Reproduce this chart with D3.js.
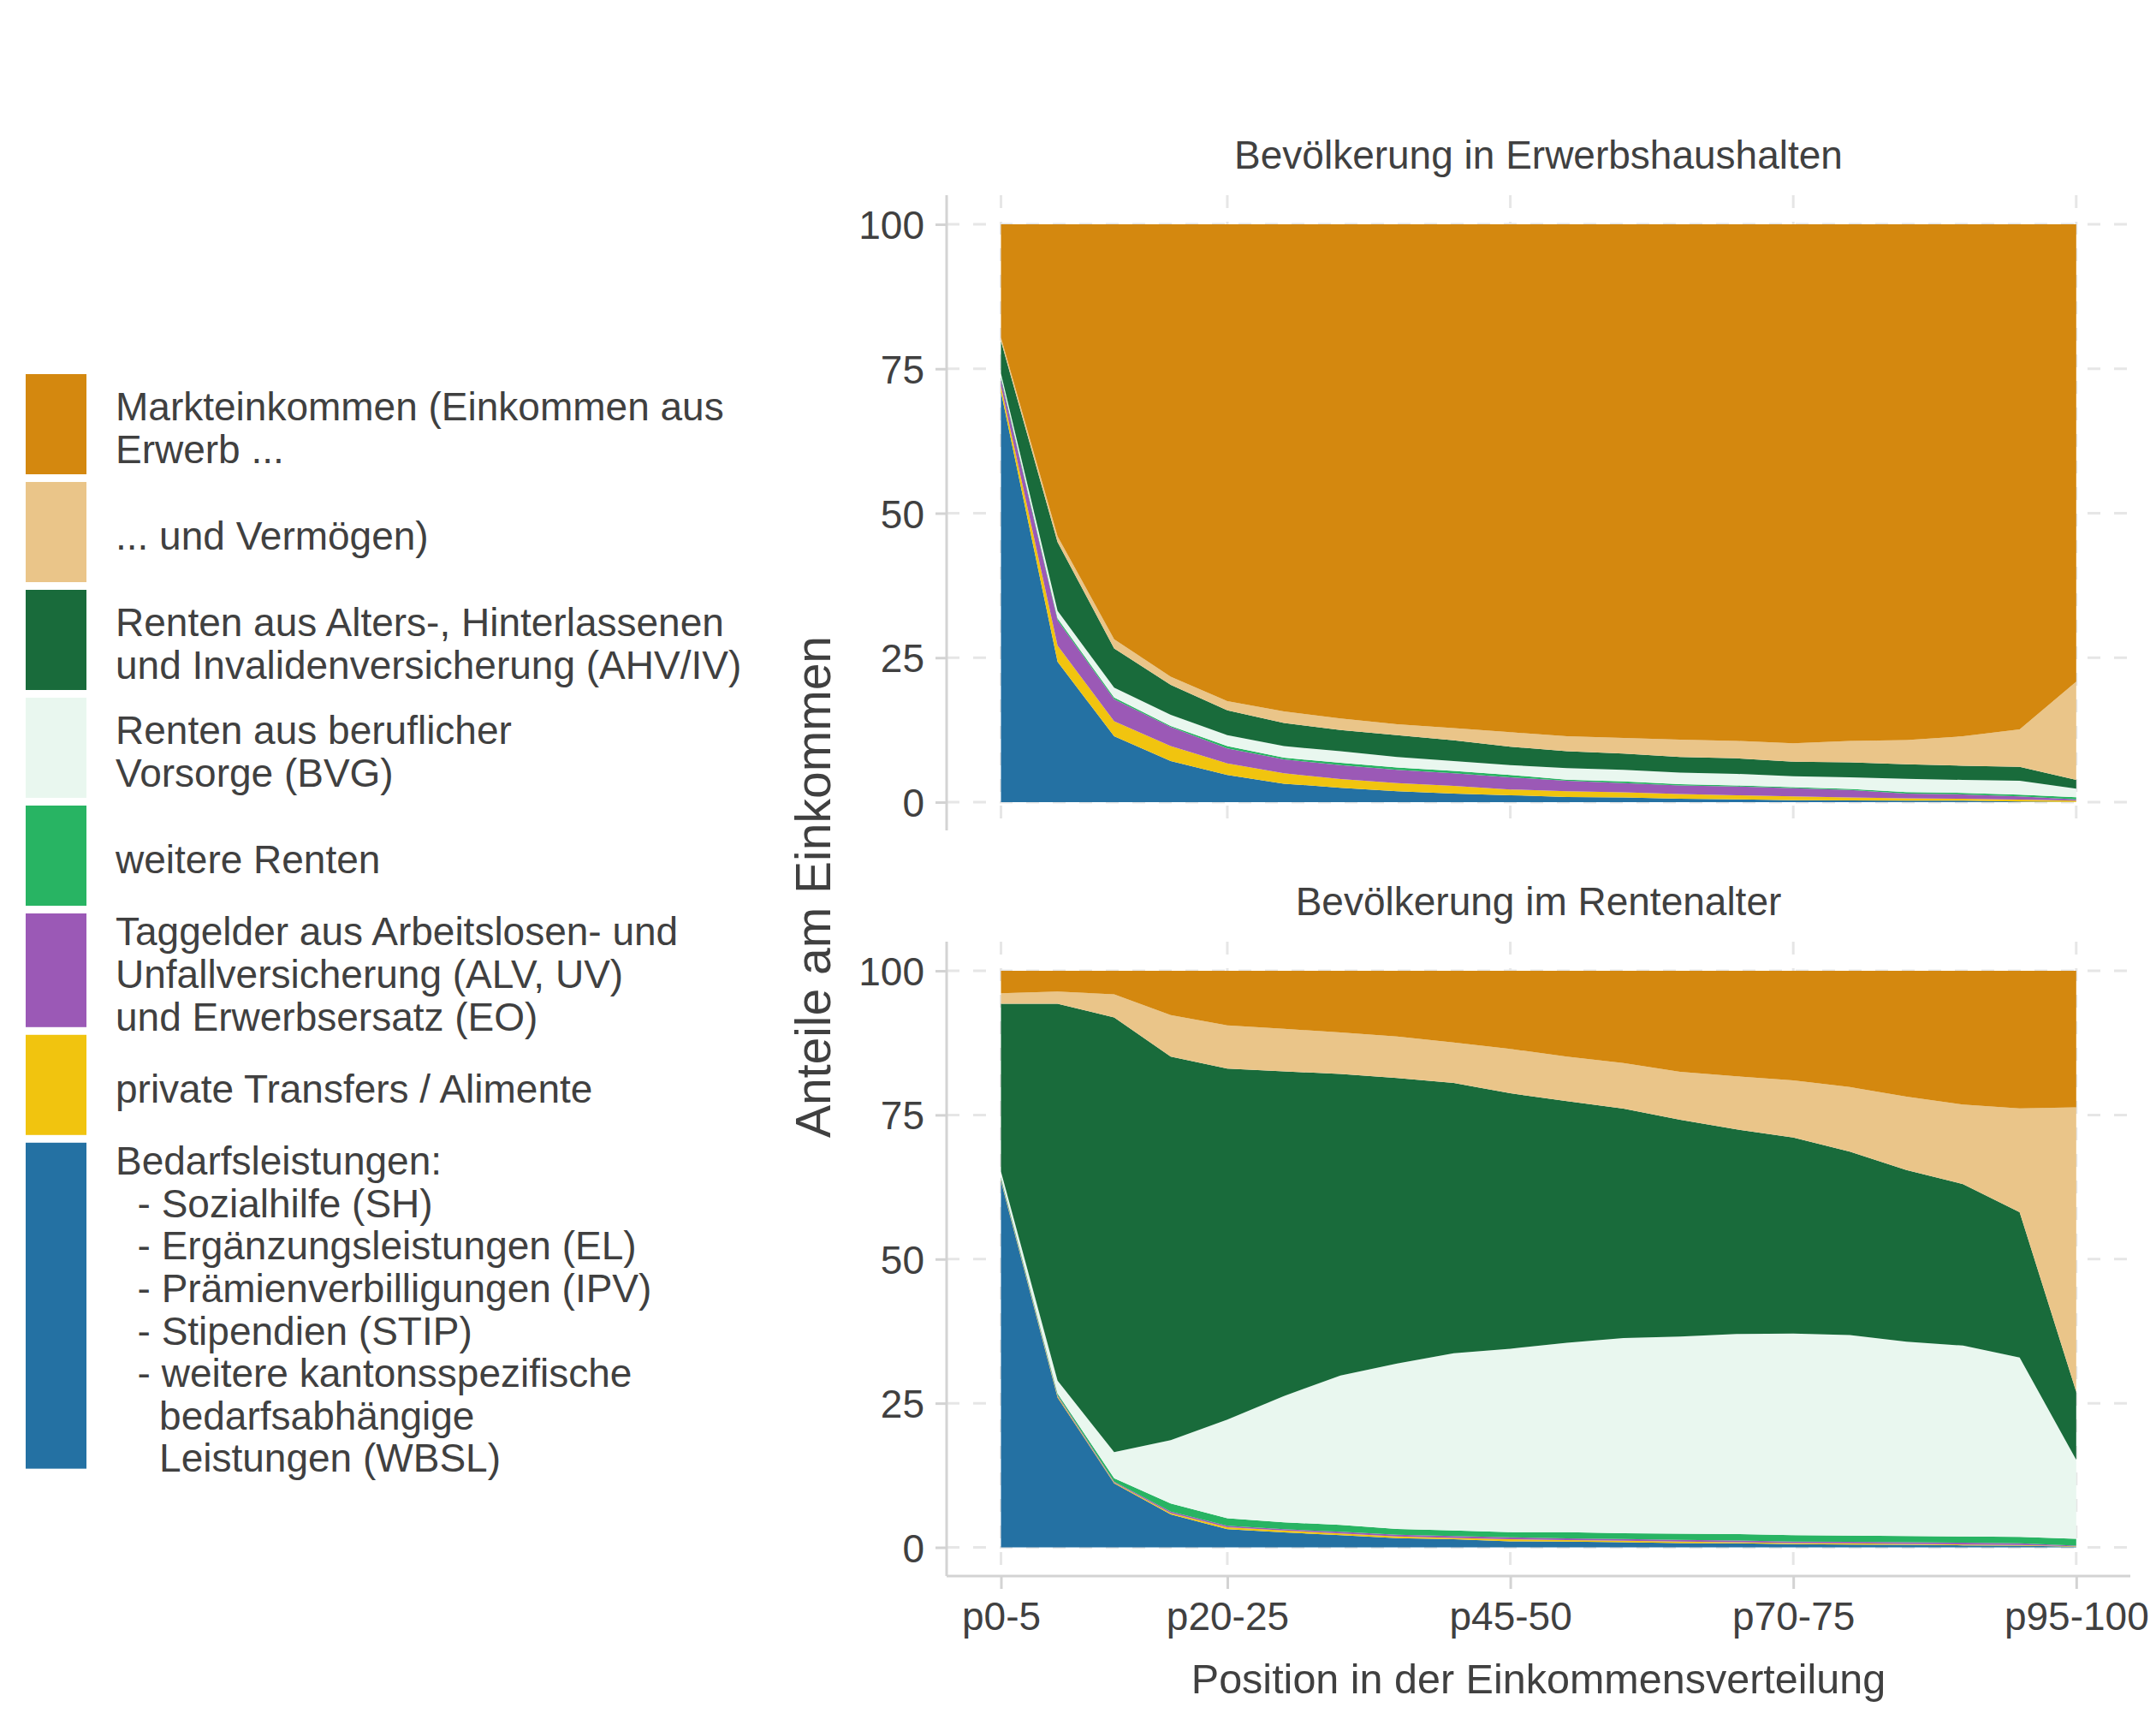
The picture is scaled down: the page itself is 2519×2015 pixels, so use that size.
<!DOCTYPE html>
<html><head><meta charset="utf-8">
<script src="https://cdn.jsdelivr.net/npm/d3@7"></script>
<style>
html,body{margin:0;padding:0;background:#fff;}
svg text{font-family:"Liberation Sans", Arial, sans-serif;}
</style></head>
<body><svg id="chart" width="2519" height="2015"></svg>
<script>
// ---------- data ----------
const categories = ["p0-5","p5-10","p10-15","p15-20","p20-25","p25-30","p30-35","p35-40","p40-45","p45-50",
  "p50-55","p55-60","p60-65","p65-70","p70-75","p75-80","p80-85","p85-90","p90-95","p95-100"];
const xTickLabels = ["p0-5","p20-25","p45-50","p70-75","p95-100"];
const yTickValues = [0,25,50,75,100];
const panelTitles = ["Bevölkerung in Erwerbshaushalten","Bevölkerung im Rentenalter"];
const seriesKeys = ["bedarf","privat","taggeld","weitere","bvg","ahv","vermoegen","markt"];
const seriesColors = ["#2471a3","#f1c40f","#9b59b6","#28b463","#e9f7ef","#196b3b","#eac589","#d4880f"];
const legendLabels = [
  ["Markteinkommen (Einkommen aus","Erwerb ..."],
  ["... und Vermögen)"],
  ["Renten aus Alters-, Hinterlassenen","und Invalidenversicherung (AHV/IV)"],
  ["Renten aus beruflicher","Vorsorge (BVG)"],
  ["weitere Renten"],
  ["Taggelder aus Arbeitslosen- und","Unfallversicherung (ALV, UV)","und Erwerbsersatz (EO)"],
  ["private Transfers / Alimente"],
  ["Bedarfsleistungen:","  - Sozialhilfe (SH)","  - Ergänzungsleistungen (EL)","  - Prämienverbilligungen (IPV)",
   "  - Stipendien (STIP)","  - weitere kantonsspezifische","    bedarfsabhängige","    Leistungen (WBSL)"]
];
const legendKeys = ["markt","vermoegen","ahv","bvg","weitere","taggeld","privat","bedarf"];

// Bevölkerung in Erwerbshaushalten (percent shares)
const erwBedarf    = [71.0,24.3,11.4,7.1,4.7,3.2,2.5,1.9,1.5,1.2,0.9,0.8,0.6,0.5,0.35,0.3,0.25,0.25,0.1,0.05];
const erwPrivat    = [1.0,2.8,2.6,2.6,2.0,1.8,1.5,1.4,1.3,1.0,1.0,0.9,0.8,0.7,0.65,0.5,0.4,0.35,0.35,0.2];
const erwTaggeld   = [1.2,4.4,3.8,3.3,2.6,2.4,2.4,2.3,2.2,2.1,1.8,1.6,1.5,1.5,1.4,1.3,0.85,0.75,0.55,0.25];
const erwWeitere   = [0.4,0.3,0.3,0.2,0.4,0.3,0.4,0.4,0.4,0.4,0.2,0.3,0.2,0.2,0.2,0.2,0.25,0.25,0.3,0.35];
const erwBvg       = [0.6,1.3,1.7,1.9,1.9,2.0,2.0,1.8,1.7,1.7,2.0,2.0,2.0,2.0,1.9,2.0,2.3,2.25,2.4,1.5];
const erwAhv       = [5.6,11.9,6.8,5.2,4.3,4.0,3.7,3.8,3.6,3.2,2.9,2.8,2.7,2.7,2.5,2.6,2.5,2.45,2.4,1.5];
const erwVermoegen = [0.6,1.0,1.6,1.4,1.6,2.0,2.0,1.9,2.1,2.5,2.6,2.7,3.0,3.0,3.2,3.7,4.2,5.1,6.5,17.0];
const erwMarkt     = [19.6,54.0,71.8,78.3,82.5,84.3,85.5,86.5,87.2,87.9,88.6,88.9,89.2,89.4,89.8,89.4,89.25,88.6,87.4,79.15];

// Bevölkerung im Rentenalter (percent shares)
const renBedarf    = [63.5,26.0,11.1,5.7,3.15,2.6,2.1,1.6,1.4,1.05,1.0,0.9,0.75,0.7,0.55,0.5,0.45,0.35,0.28,0.1];
const renPrivat    = [0.2,0.2,0.15,0.25,0.35,0.35,0.3,0.3,0.25,0.35,0.25,0.25,0.25,0.2,0.2,0.2,0.15,0.15,0.12,0.1];
const renTaggeld   = [0.2,0.2,0.15,0.25,0.25,0.2,0.3,0.3,0.3,0.35,0.3,0.3,0.3,0.3,0.25,0.25,0.3,0.3,0.3,0.1];
const renWeitere   = [0.3,0.3,0.6,1.4,1.3,1.2,1.2,1.0,1.0,0.9,1.1,1.0,1.08,1.1,1.1,1.08,1.06,1.09,1.12,1.2];
const renBvg       = [1.0,2.2,4.5,11.0,17.1,21.9,25.9,28.7,30.7,31.8,32.85,33.85,34.2,34.7,35.0,34.8,33.7,33.1,31.1,13.7];
const renAhv       = [29.1,65.4,75.4,66.5,60.9,56.3,52.3,49.5,46.9,44.3,41.9,39.8,37.6,35.5,34.0,31.8,29.8,28.0,25.2,11.8];
const renVermoegen = [1.8,2.1,4.0,7.2,7.5,7.4,7.2,7.2,7.0,7.7,7.7,7.9,8.3,9.2,9.9,11.2,12.7,13.8,18.0,49.3];
const renMarkt     = [3.9,3.6,4.1,7.7,9.45,10.05,10.7,11.4,12.45,13.55,14.9,16.0,17.52,18.3,19.0,20.17,21.84,23.21,23.88,23.7];

// ---------- build tables ----------
function buildRows(arrs){
  return categories.map((c,i)=>{
    const r = {cat:c};
    seriesKeys.forEach((k,j)=>{ r[k] = arrs[j][i]; });
    return r;
  });
}
const panels = [
  {title: panelTitles[0], rows: buildRows([erwBedarf,erwPrivat,erwTaggeld,erwWeitere,erwBvg,erwAhv,erwVermoegen,erwMarkt]),
   top:228, bottom:970, y100:262, y0:937, xAxis:false},
  {title: panelTitles[1], rows: buildRows([renBedarf,renPrivat,renTaggeld,renWeitere,renBvg,renAhv,renVermoegen,renMarkt]),
   top:1100, bottom:1841, y100:1134, y0:1807.5, xAxis:true}
];

const colorOf = d3.scaleOrdinal().domain(seriesKeys).range(seriesColors);
const svg = d3.select("#chart");
const panelLeft = 1106, panelRight = 2489;
const x = d3.scalePoint().domain(categories).range([1169.5, 2425.8]).padding(0);
const textCol = "#404040", gridCol = "#e6e6e6", axisCol = "#d3d3d3";
const stack = d3.stack().keys(seriesKeys);

panels.forEach(p=>{
  const y = d3.scaleLinear().domain([0,100]).range([p.y0, p.y100]);
  const g = svg.append("g");
  // grid
  g.selectAll("line.hg").data(yTickValues).join("line")
    .attr("x1", panelLeft).attr("x2", panelRight)
    .attr("y1", d=>y(d)).attr("y2", d=>y(d))
    .attr("stroke", gridCol).attr("stroke-width", 3).attr("stroke-dasharray","15,16");
  g.selectAll("line.vg").data(xTickLabels).join("line")
    .attr("x1", d=>x(d)).attr("x2", d=>x(d))
    .attr("y1", p.top).attr("y2", p.bottom)
    .attr("stroke", gridCol).attr("stroke-width", 3).attr("stroke-dasharray","15,16");
  // areas
  const series = stack(p.rows);
  const area = d3.area().x(d=>x(d.data.cat)).y0(d=>y(d[0])).y1(d=>y(d[1]));
  g.selectAll("path.layer").data(series).join("path")
    .attr("d", area).attr("fill", d=>colorOf(d.key));
  // y axis
  const ya = d3.axisLeft(y).tickValues(yTickValues).tickSize(13).tickPadding(13).tickFormat(d3.format("d"));
  const yg = svg.append("g").attr("transform", `translate(${panelLeft},0)`).call(ya);
  yg.select(".domain").remove();
  yg.selectAll(".tick line").attr("stroke", axisCol).attr("stroke-width", 3);
  yg.selectAll(".tick text").attr("fill", textCol).attr("font-size", 46).attr("dy","0.36em");
  svg.append("line").attr("x1", panelLeft).attr("x2", panelLeft).attr("y1", p.top).attr("y2", p.bottom)
    .attr("stroke", axisCol).attr("stroke-width", 3);
  // x axis
  if (p.xAxis){
    const xa = d3.axisBottom(x).tickValues(xTickLabels).tickSize(15).tickPadding(15);
    const xg = svg.append("g").attr("transform", `translate(0,${p.bottom})`).call(xa);
    xg.select(".domain").remove();
    xg.selectAll(".tick line").attr("stroke", axisCol).attr("stroke-width", 3);
    xg.selectAll(".tick text").attr("fill", textCol).attr("font-size", 46);
    svg.append("line").attr("x1", panelLeft).attr("x2", panelRight).attr("y1", p.bottom).attr("y2", p.bottom)
      .attr("stroke", axisCol).attr("stroke-width", 3);
  }
  // strip title
  svg.append("text").attr("x", (panelLeft+panelRight)/2).attr("y", p.top - 31)
    .attr("text-anchor","middle").attr("font-size", 46).attr("fill", textCol).text(p.title);
});

// axis titles
svg.append("text").attr("x", (panelLeft+panelRight)/2).attr("y", 1978)
  .attr("text-anchor","middle").attr("font-size", 48.5).attr("fill", textCol)
  .text("Position in der Einkommensverteilung");
svg.append("text").attr("transform", "translate(970,1036) rotate(-90)")
  .attr("text-anchor","middle").attr("font-size", 57).attr("fill", textCol)
  .text("Anteile am Einkommen");

// legend
const lg = svg.append("g");
let ly = 437;
const lineH = 49.6;
legendKeys.forEach((k,i)=>{
  const lines = legendLabels[i];
  const h = Math.max(117, lines.length*lineH - 16);
  lg.append("rect").attr("x",30).attr("y",ly).attr("width",71).attr("height",h).attr("fill", colorOf(k));
  const cy = ly + h/2;
  const t = lg.append("text").attr("font-size",46).attr("fill",textCol).attr("xml:space","preserve")
    .style("white-space","pre");
  lines.forEach((s,j)=>{
    t.append("tspan").attr("x",135).attr("y", cy + (j-(lines.length-1)/2)*lineH + 20.5).text(s);
  });
  ly += h + 9;
});
</script></body></html>
